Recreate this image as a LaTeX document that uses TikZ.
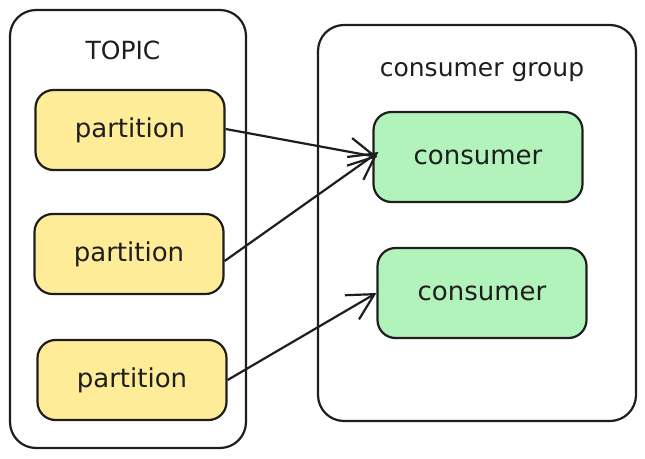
\documentclass[tikz,border=0pt]{standalone}
\usepackage{fontspec}
\setmainfont{DejaVu Sans}
\usetikzlibrary{arrows.meta,positioning}
\definecolor{ink}{HTML}{1E1E1E}
\definecolor{partfill}{HTML}{FFEC99}
\definecolor{consfill}{HTML}{B2F2BB}
\tikzset{
  %Define standard arrow tip
    >={Straight Barb[length=26pt,width=28pt,line width=2.2pt]},
  %define style for the two big frames
  frame/.style={
    rectangle,
    rounded corners=26pt,
    draw=ink,line width=2.2pt},
  %define style for boxes
  partbox/.style={
    rectangle,
    rounded corners=18pt,
    draw=ink,line width=2.2pt,
    fill=partfill,
    minimum width=189pt,
    minimum height=80pt,
    text=ink,
    font=\fontsize{26}{30}\selectfont},
  consbox/.style={
    partbox,
    fill=consfill,
    minimum width=209pt,
    minimum height=90pt},
  caption/.style={
    text=ink,
    font=\fontsize{25}{30}\selectfont},
  %define style for arrows
  myarrow/.style={
    ->,
    draw=ink,
    line width=2.2pt}
}

\begin{document}
\begin{tikzpicture}[x=1pt,y=-1pt]
\useasboundingbox (0,0) rectangle (645,458);
%frames
\node[frame, minimum width=236pt, minimum height=438pt] (topic) at (128,229) {};
\node[frame, minimum width=318pt, minimum height=396pt] (group) at (477,223) {};
\node[caption] (topiclabel) at (123,50) {TOPIC};
\node[caption] (grouplabel) at (482,72) {consumer group};

%nodes
\node[partbox] (part1) at (130,130) {partition};
\node[partbox] (part2) at (129,254) {partition};
\node[partbox] (part3) at (132,380) {partition};

\node[consbox] (cons1) at (478,157) {consumer};
\node[consbox] (cons2) at (482,293) {consumer};

\draw[myarrow] ([yshift=1pt]part1.east) -- ([xshift=5pt]cons1.west);
\draw[myarrow] ([yshift=-7pt]part2.east) -- ([xshift=6pt,yshift=5pt]cons1.west);
\draw[myarrow] (part3.east) -- (cons2.west);

\end{tikzpicture}
\end{document}
